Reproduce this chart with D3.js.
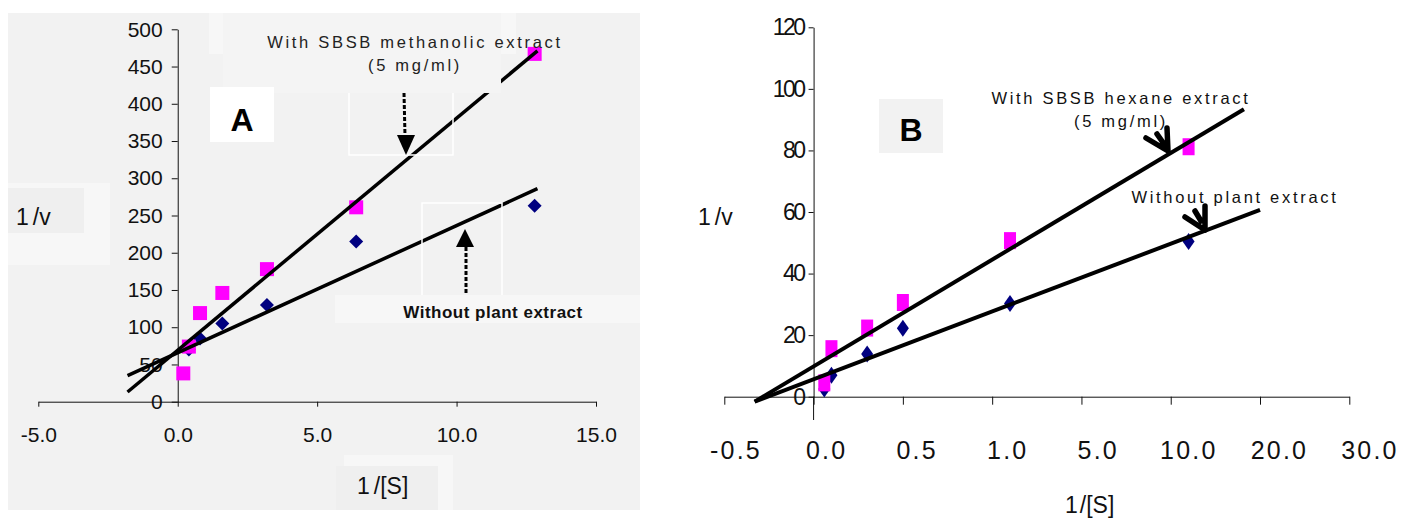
<!DOCTYPE html>
<html>
<head>
<meta charset="utf-8">
<script src="https://cdn.jsdelivr.net/npm/d3@7"></script>
<style>
  html, body { margin: 0; padding: 0; background: #fff; }
  svg { display: block; font-family: "Liberation Sans", Arial, sans-serif; }
</style>
</head>
<body>
<svg id="chart" width="1403" height="519"></svg>
<script>
// ---------- Panel A data ----------
const xA_with = [0.2, 0.4, 0.8, 1.6, 3.2, 6.4, 12.8];
const yA_with = [38, 74, 119, 146, 178, 261, 467];          // with SBSB methanolic extract
const xA_without = [0.4, 0.8, 1.6, 3.2, 6.4, 12.8];
const yA_without = [70, 85, 105, 130, 215, 263];            // without plant extract
const trendA_withX = [-1.8, 12.9];
const trendA_withY = [13, 471];
const trendA_withoutX = [-1.8, 12.9];
const trendA_withoutY = [35, 286];
const xTicksA = [-5, 0, 5, 10, 15];
const yTicksA = [0, 50, 100, 150, 200, 250, 300, 350, 400, 450, 500];

// ---------- Panel B data ----------
const xB = [0.06, 0.1, 0.3, 0.5, 1.1, 2.1];
const yB_with = [4.5, 15.6, 22.3, 30.6, 50.7, 81.2];       // with SBSB hexane extract
const yB_without = [2.5, 7.0, 13.9, 22.2, 30.3, 50.4];     // without plant extract
const trendB_withX = [-0.33, 2.41];
const trendB_withY = [-1.6, 93.4];
const trendB_withoutX = [-0.33, 2.5];
const trendB_withoutY = [-1.6, 60.7];
const xTickValuesB = [-0.5, 0, 0.5, 1, 1.5, 2, 2.5, 3];
const xTickLabelsB = ["-0.5", "0.0", "0.5", "1.0", "5.0", "10.0", "20.0", "30.0"];
const yTicksB = [0, 20, 40, 60, 80, 100, 120];

const PINK = "#ff00ff", NAVY = "#000080";
const svg = d3.select("#chart");
const fmt1 = d => d3.format(".1f")(d).replace("\u2212", "-");

// ================= PANEL A =================
const gA = svg.append("g");
// background and artefact boxes
gA.append("rect").attr("x", 8).attr("y", 13).attr("width", 632).attr("height", 497).attr("fill", "#f2f2f2");
gA.append("rect").attr("x", 209).attr("y", 13).attr("width", 14).attr("height", 41).attr("fill", "#f7f7f7");
gA.append("rect").attr("x", 501).attr("y", 13).attr("width", 15).attr("height", 41).attr("fill", "#f7f7f7");
gA.append("rect").attr("x", 8).attr("y", 183).attr("width", 102).attr("height", 82).attr("fill", "#f7f7f7");
gA.append("rect").attr("x", 8).attr("y", 188).attr("width", 76).attr("height", 45).attr("fill", "#efefef");
gA.append("rect").attr("x", 344).attr("y", 455).attr("width", 109).attr("height", 55).attr("fill", "#f7f7f7");
gA.append("rect").attr("x", 336).attr("y", 466).attr("width", 102).attr("height", 44).attr("fill", "#efefef");
gA.append("rect").attr("x", 335).attr("y", 295).attr("width", 305).attr("height", 28).attr("fill", "#f7f7f7");

const xA = d3.scaleLinear().domain([-5, 15]).range([38.3, 596]);
const yA = d3.scaleLinear().domain([0, 500]).range([401.7, 29.3]);

const axA_x = gA.append("g").attr("transform", `translate(0,${yA(0)})`)
  .call(d3.axisBottom(xA).tickValues(xTicksA).tickFormat(fmt1).tickSize(5).tickPadding(20).tickSizeOuter(0));
const axA_y = gA.append("g").attr("transform", `translate(${xA(0)},0)`)
  .call(d3.axisLeft(yA).tickValues(yTicksA).tickFormat(d3.format("d")).tickSize(6).tickPadding(9).tickSizeOuter(0));
[axA_x, axA_y].forEach(a => {
  a.select(".domain").attr("stroke", "#111");
  a.selectAll(".tick line").attr("stroke", "#111");
  a.selectAll("text").attr("font-size", 21).attr("fill", "#111").attr("font-family", "Liberation Sans, Arial, sans-serif");
});

// markers (diamonds under squares)
gA.selectAll(".dmA").data(xA_without.map((x, i) => [x, yA_without[i]])).enter().append("path")
  .attr("d", d => { const cx = xA(d[0]), cy = yA(d[1]); return `M${cx},${cy-7}L${cx+7},${cy}L${cx},${cy+7}L${cx-7},${cy}Z`; })
  .attr("fill", NAVY);
const sqA = 14;
gA.selectAll(".sqA").data(xA_with.map((x, i) => [x, yA_with[i]])).enter().append("rect")
  .attr("x", d => xA(d[0]) - sqA / 2).attr("y", d => yA(d[1]) - sqA / 2)
  .attr("width", sqA).attr("height", sqA).attr("fill", PINK);

// trend lines
const lineA = d3.line().x(d => xA(d[0])).y(d => yA(d[1]));
gA.append("path").attr("d", lineA(trendA_withX.map((x, i) => [x, trendA_withY[i]])))
  .attr("stroke", "#000").attr("stroke-width", 3.5).attr("fill", "none");
gA.append("path").attr("d", lineA(trendA_withoutX.map((x, i) => [x, trendA_withoutY[i]])))
  .attr("stroke", "#000").attr("stroke-width", 3.5).attr("fill", "none");

// text box covering the upper line
gA.append("rect").attr("x", 223).attr("y", 13).attr("width", 278).attr("height", 80).attr("fill", "#f4f4f4");
// white outline boxes
gA.append("path").attr("d", "M349,93L349,155L453,155L453,93").attr("stroke", "#fff").attr("stroke-width", 1.5).attr("fill", "none");
gA.append("path").attr("d", "M422,295L422,203L502,203L502,295").attr("stroke", "#fff").attr("stroke-width", 1.5).attr("fill", "none");

// arrows
gA.append("path").attr("d", "M404,93L405,136").attr("stroke", "#000").attr("stroke-width", 3).attr("stroke-dasharray", "4,2");
gA.append("path").attr("d", "M397,135L415,135L406,155Z").attr("fill", "#000");
gA.append("path").attr("d", "M466,247L466,295").attr("stroke", "#000").attr("stroke-width", 3).attr("stroke-dasharray", "4,2");
gA.append("path").attr("d", "M456,247L474,247L465,229Z").attr("fill", "#000");

// "A" label
gA.append("rect").attr("x", 210).attr("y", 87).attr("width", 64).attr("height", 55).attr("fill", "#fff");
gA.append("text").attr("x", 242).attr("y", 131).attr("text-anchor", "middle")
  .attr("font-size", 32).attr("font-weight", "bold").text("A");

// annotations
gA.append("text").attr("x", 415).attr("y", 48).attr("text-anchor", "middle")
  .attr("font-size", 16.5).attr("letter-spacing", 2.7).attr("fill", "#222").text("With SBSB methanolic extract");
gA.append("text").attr("x", 415).attr("y", 71).attr("text-anchor", "middle")
  .attr("font-size", 16.5).attr("letter-spacing", 2.7).attr("fill", "#222").text("(5 mg/ml)");
gA.append("text").attr("x", 493).attr("y", 318).attr("text-anchor", "middle")
  .attr("font-size", 17).attr("font-weight", "bold").attr("letter-spacing", 0.5).attr("fill", "#111").text("Without plant extract");

// axis titles
const tA1 = gA.append("text").attr("x", 16).attr("y", 225).attr("font-size", 23).attr("fill", "#111");
tA1.append("tspan").text("1");
tA1.append("tspan").attr("dx", 4).text("/v");
const tA2 = gA.append("text").attr("x", 357).attr("y", 494).attr("font-size", 23).attr("fill", "#111");
tA2.append("tspan").text("1");
tA2.append("tspan").attr("dx", 4).text("/[S]");

// ================= PANEL B =================
const gB = svg.append("g");
const xBs = d3.scaleLinear().domain([-0.5, 3]).range([724.3, 1349.3]);
const yBs = d3.scaleLinear().domain([0, 120]).range([396.7, 27.3]);

const axB_x = gB.append("g").attr("transform", `translate(0,${yBs(0)})`)
  .call(d3.axisBottom(xBs).tickValues(xTickValuesB).tickFormat("").tickSize(8).tickSizeOuter(0));
const axB_y = gB.append("g").attr("transform", `translate(${xBs(0)},0)`)
  .call(d3.axisLeft(yBs).tickValues(yTicksB).tickFormat(d3.format("d")).tickSize(5).tickPadding(5).tickSizeOuter(0));
// y axis extends below zero
gB.append("line").attr("x1", xBs(0)).attr("x2", xBs(0)).attr("y1", yBs(0)).attr("y2", 420).attr("stroke", "#111");
[axB_x, axB_y].forEach(a => {
  a.select(".domain").attr("stroke", "#111");
  a.selectAll(".tick line").attr("stroke", "#111");
});
axB_y.selectAll("text").attr("font-size", 23).attr("letter-spacing", -2.5).attr("fill", "#111")
  .attr("font-family", "Liberation Sans, Arial, sans-serif");

// x tick labels (relabelled category-like axis)
const xLabB = d3.scalePoint().domain(xTickLabelsB).range([736, 1370]);
gB.selectAll(".xlabB").data(xTickLabelsB).enter().append("text")
  .attr("x", d => xLabB(d)).attr("y", 459).attr("text-anchor", "middle")
  .attr("font-size", 25).attr("letter-spacing", 2.2).attr("fill", "#111").text(d => d);

// markers (diamonds under squares)
gB.selectAll(".dmB").data(xB.map((x, i) => [x, yB_without[i]])).enter().append("path")
  .attr("d", d => { const cx = xBs(d[0]), cy = yBs(d[1]); return `M${cx},${cy-8.5}L${cx+6},${cy}L${cx},${cy+8.5}L${cx-6},${cy}Z`; })
  .attr("fill", NAVY);
gB.selectAll(".sqB").data(xB.map((x, i) => [x, yB_with[i]])).enter().append("rect")
  .attr("x", d => xBs(d[0]) - 6).attr("y", d => yBs(d[1]) - 8.5)
  .attr("width", 12).attr("height", 17).attr("fill", PINK);

// trend lines
const lineB = d3.line().x(d => xBs(d[0])).y(d => yBs(d[1]));
gB.append("path").attr("d", lineB(trendB_withX.map((x, i) => [x, trendB_withY[i]])))
  .attr("stroke", "#000").attr("stroke-width", 4).attr("fill", "none");
gB.append("path").attr("d", lineB(trendB_withoutX.map((x, i) => [x, trendB_withoutY[i]])))
  .attr("stroke", "#000").attr("stroke-width", 4).attr("fill", "none");

// arrows
gB.append("path").attr("d", "M1167,128L1168,151M1146,138L1168,151M1157,134L1164,144")
  .attr("stroke", "#000").attr("stroke-width", 5.5).attr("stroke-linecap", "round").attr("fill", "none");
gB.append("path").attr("d", "M1205,206L1205,230M1185,217L1205,230M1195,211L1201,221")
  .attr("stroke", "#000").attr("stroke-width", 5.5).attr("stroke-linecap", "round").attr("fill", "none");

// "B" label
gB.append("rect").attr("x", 879).attr("y", 99).attr("width", 64).attr("height", 54).attr("fill", "#f2f2f2");
gB.append("text").attr("x", 911).attr("y", 141).attr("text-anchor", "middle")
  .attr("font-size", 32).attr("font-weight", "bold").text("B");

// annotations
gB.append("text").attr("x", 1121).attr("y", 104).attr("text-anchor", "middle")
  .attr("font-size", 16.5).attr("letter-spacing", 2.7).attr("fill", "#111").text("With SBSB hexane extract");
gB.append("text").attr("x", 1121).attr("y", 127).attr("text-anchor", "middle")
  .attr("font-size", 16.5).attr("letter-spacing", 2.7).attr("fill", "#111").text("(5 mg/ml)");
gB.append("text").attr("x", 1235).attr("y", 203).attr("text-anchor", "middle")
  .attr("font-size", 16.5).attr("letter-spacing", 2.7).attr("fill", "#111").text("Without plant extract");

// axis titles
const tB1 = gB.append("text").attr("x", 698).attr("y", 225).attr("font-size", 23).attr("fill", "#111");
tB1.append("tspan").text("1");
tB1.append("tspan").attr("dx", 4).text("/v");
const tB2 = gB.append("text").attr("x", 1065).attr("y", 513).attr("font-size", 23).attr("fill", "#111");
tB2.append("tspan").text("1");
tB2.append("tspan").attr("dx", 2).text("/[S]");
</script>
</body>
</html>
